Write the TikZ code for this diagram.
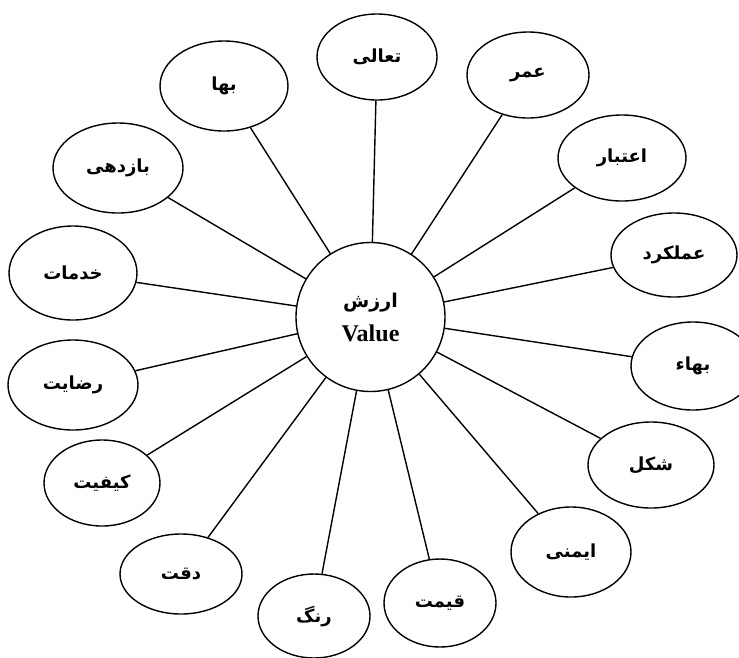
\documentclass[tikz,border=0pt]{standalone}
\usepackage{fontspec}
\setmainfont{Liberation Serif}
\newfontfamily\arabicfont[Script=Arabic]{DejaVu Sans}
\TeXXeTstate=1
\usetikzlibrary{shapes.geometric}

\tikzset{
  value/.style={circle, draw, line width=1.4pt, minimum size=149pt, inner sep=0pt,
    align=center, font=\bfseries\fontsize{24}{30}\selectfont},
  attribute/.style={ellipse, draw, line width=1.4pt, inner sep=0pt,
    font=\arabicfont\bfseries\fontsize{18}{20}\selectfont},
  link/.style={line width=1.4pt},
}

\begin{document}
\begin{tikzpicture}[x=1pt,y=-1pt]
  \useasboundingbox (0,0) rectangle (739,657);

  % centre
  \node[value] (value) at (370.5,317)
    {{\arabicfont\fontsize{19}{22}\selectfont\beginR ارزش\endR}\\[4pt]Value};

  % attributes, clockwise from the top
  \node[attribute, minimum width=120pt, minimum height=86pt] (taali)    at (377,57)  {\beginR تعالی\endR};
  \node[attribute, minimum width=122pt, minimum height=86pt] (omr)      at (528,75)  {\beginR عمر\endR};
  \node[attribute, minimum width=128pt, minimum height=86pt] (etebar)   at (622,158) {\beginR اعتبار\endR};
  \node[attribute, minimum width=126pt, minimum height=84pt] (amalkard) at (674,255) {\beginR عملکرد\endR};
  \node[attribute, minimum width=124pt, minimum height=88pt] (bahae)    at (693,366) {\beginR بهاء\endR};
  \node[attribute, minimum width=126pt, minimum height=86pt] (shekl)    at (651,465) {\beginR شکل\endR};
  \node[attribute, minimum width=120pt, minimum height=90pt] (imeni)    at (571,552) {\beginR ایمنی\endR};
  \node[attribute, minimum width=112pt, minimum height=88pt] (gheymat)  at (440,603) {\beginR قیمت\endR};
  \node[attribute, minimum width=112pt, minimum height=84pt] (rang)     at (314,616) {\beginR رنگ\endR};
  \node[attribute, minimum width=122pt, minimum height=80pt] (deghat)   at (181,574) {\beginR دقت\endR};
  \node[attribute, minimum width=116pt, minimum height=86pt] (keyfiat)  at (102,483) {\beginR کیفیت\endR};
  \node[attribute, minimum width=130pt, minimum height=90pt] (rezayat)  at (73,385)  {\beginR رضایت\endR};
  \node[attribute, minimum width=128pt, minimum height=94pt] (khadamat) at (73,273)  {\beginR خدمات\endR};
  \node[attribute, minimum width=130pt, minimum height=90pt] (bazdehi)  at (118,168) {\beginR بازدهی\endR};
  \node[attribute, minimum width=128pt, minimum height=90pt] (baha)     at (224,86)  {\beginR بها\endR};

  % spokes
  \foreach \n in {taali,omr,etebar,amalkard,bahae,shekl,imeni,gheymat,
                  rang,deghat,keyfiat,rezayat,khadamat,bazdehi,baha}
    \draw[link] (value) -- (\n);
\end{tikzpicture}
\end{document}
